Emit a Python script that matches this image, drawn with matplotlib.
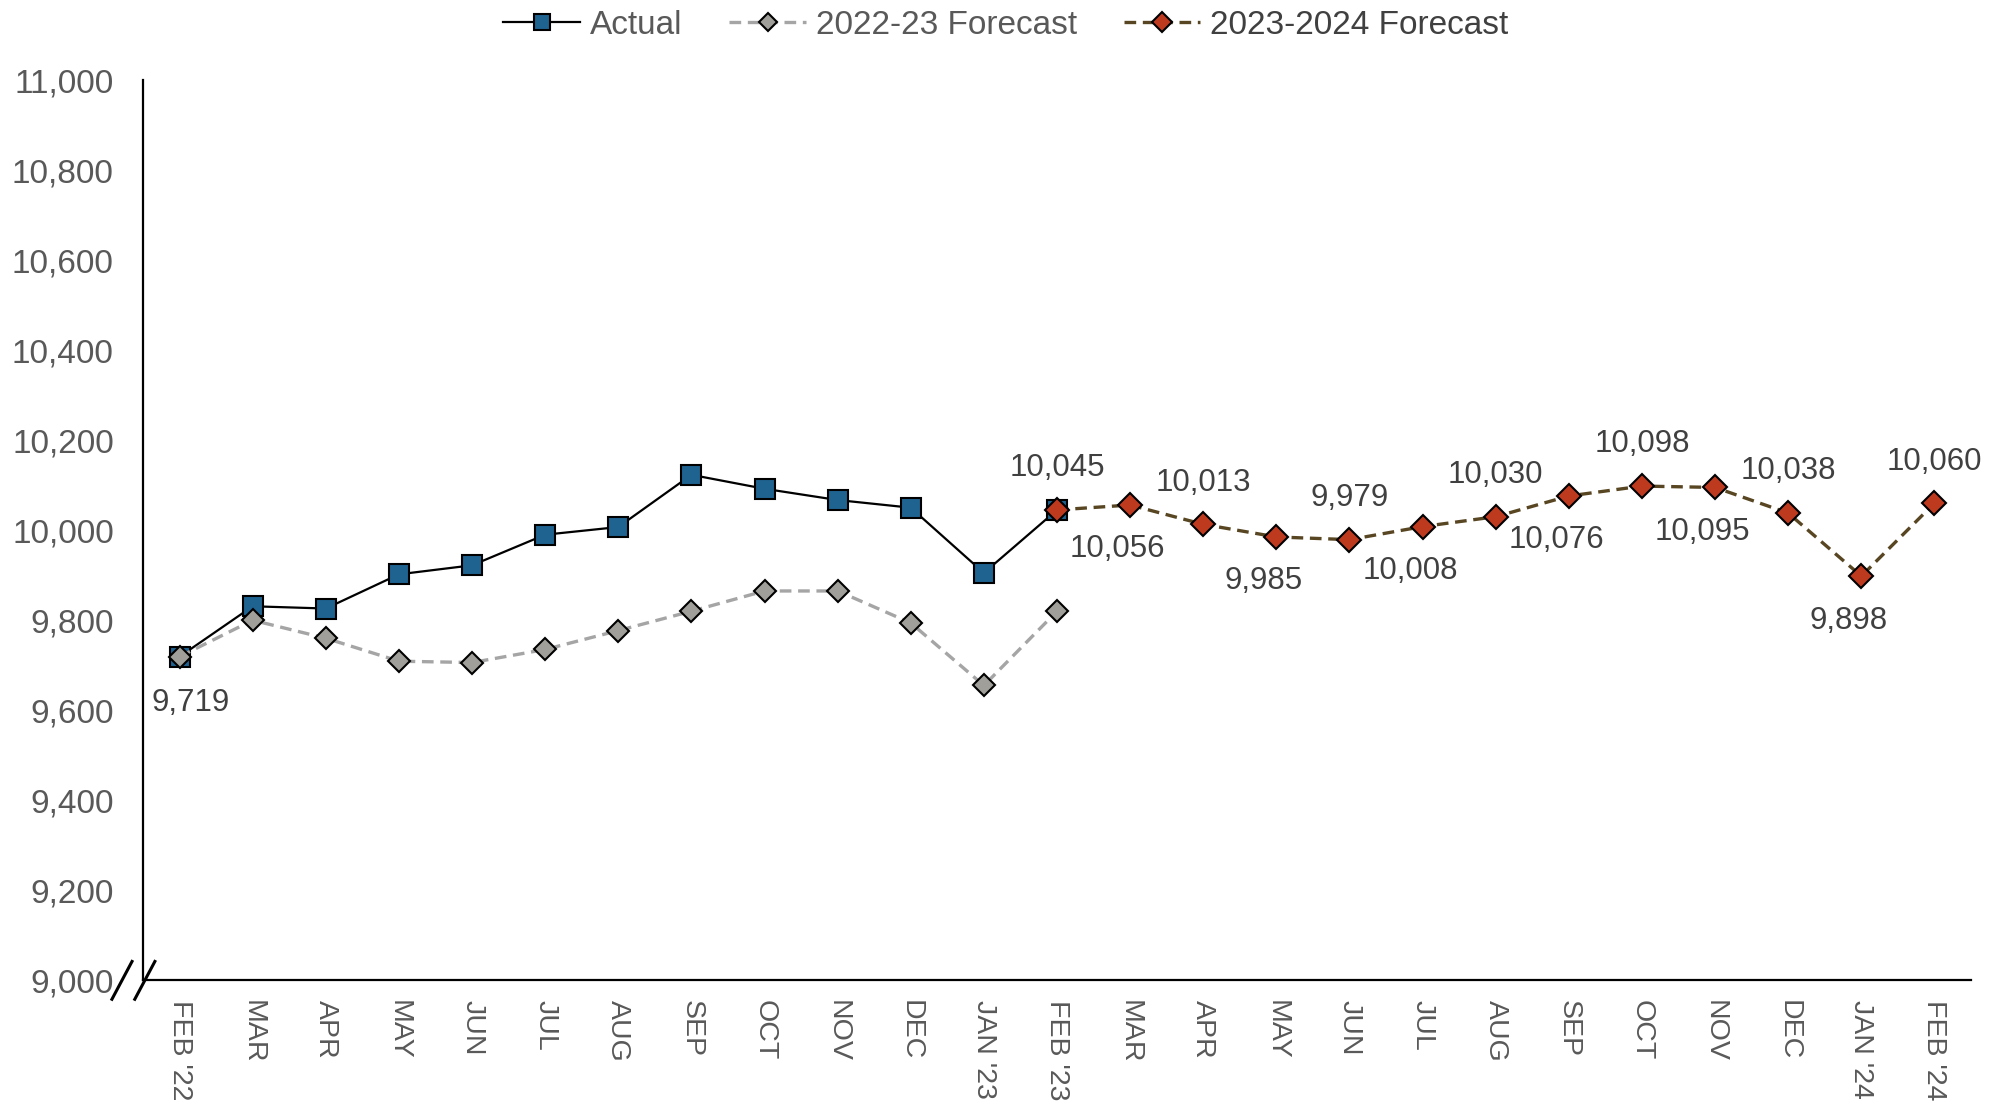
import numpy as np
import matplotlib
matplotlib.use("Agg")
import matplotlib.pyplot as plt
from matplotlib.ticker import FuncFormatter

months = ["FEB '22", "MAR", "APR", "MAY", "JUN", "JUL", "AUG", "SEP", "OCT", "NOV", "DEC", "JAN '23",
          "FEB '23", "MAR", "APR", "MAY", "JUN", "JUL", "AUG", "SEP", "OCT", "NOV", "DEC", "JAN '24", "FEB '24"]

# Actual covers FEB '22 .. FEB '23
actual = [9719, 9831, 9826, 9902, 9922, 9990, 10007, 10123, 10092, 10067, 10050, 9905, 10045]
# 2022-23 forecast, FEB '22 .. FEB '23
fc_2223 = [9719, 9800, 9760, 9709, 9706, 9735, 9777, 9820, 9865, 9865, 9794, 9655, 9820]
# 2023-2024 forecast, FEB '23 .. FEB '24
fc_2324 = [10045, 10056, 10013, 9985, 9979, 10008, 10030, 10076, 10098, 10095, 10038, 9898, 10060]

plt.rcParams['font.family'] = ['Liberation Sans', 'DejaVu Sans']

fig = plt.figure(figsize=(20, 11.04), dpi=100)
ax = fig.add_axes([0.0715, 0.112, 0.914, 0.8155])

x_act = np.arange(len(actual))
x_2223 = np.arange(len(fc_2223))
x_2324 = np.arange(len(fc_2324)) + 12

ax.plot(x_act, actual, color='black', lw=1.6, marker='s', ms=15,
        mfc='#1F6391', mec='black', mew=1.5, label='Actual', zorder=3)
ax.plot(x_2223, fc_2223, color='#A5A5A5', lw=2.4, ls=(0, (3.5, 2)), marker='D', ms=11,
        mfc='#A19F99', mec='black', mew=1.5, label='2022-23 Forecast', zorder=4)
ax.plot(x_2324, fc_2324, color='#584622', lw=2.4, ls=(0, (3.5, 2)), marker='D', ms=12.5,
        mfc='#BE3A1E', mec='black', mew=1.5, label='2023-2024 Forecast', zorder=5)

# data labels
lab_kw = dict(textcoords='offset points', ha='center', va='center', fontsize=22.5, color='#404040')
ax.annotate(f"{actual[0]:,}", (0, actual[0]), xytext=(8, -33), **lab_kw)
for i, v in enumerate(fc_2324):
    if i % 2 == 0:
        ax.annotate(f"{v:,}", (x_2324[i], v), xytext=(0, 30), **lab_kw)
    else:
        ax.annotate(f"{v:,}", (x_2324[i], v), xytext=(-9, -32), **lab_kw)

ax.set_xlim(-0.5, 24.5)
ax.set_ylim(9000, 11000)
ax.set_yticks(np.arange(9000, 11001, 200))
ax.yaxis.set_major_formatter(FuncFormatter(lambda v, p: f"{int(v):,}"))
ax.set_xticks(np.arange(len(months)))
ax.set_xticklabels(months, rotation=-90, va='top', ha='center')
ax.tick_params(axis='both', length=0, labelcolor='#595959')
ax.tick_params(axis='y', pad=21, labelsize=24)
ax.tick_params(axis='x', pad=14, labelsize=20.5)

for s in ['top', 'right']:
    ax.spines[s].set_visible(False)
for s in ['left', 'bottom']:
    ax.spines[s].set_linewidth(1.6)
    ax.spines[s].set_color('black')

# axis break marks
for x0 in [-0.017, -0.0045]:
    ax.plot([x0, x0 + 0.011], [-0.021, 0.021], transform=ax.transAxes, color='black',
            lw=2.2, clip_on=False, zorder=6)

leg = fig.legend(loc='upper center', bbox_to_anchor=(0.503, 1.018), ncol=3, frameon=False,
                 fontsize=24, handlelength=2.3, columnspacing=1.4, handletextpad=0.3,
                 markerscale=0.8)
for t in leg.get_texts():
    t.set_color('#595959')
leg.get_texts()[2].set_color('#404040')

fig.savefig('out.png', dpi=100)
